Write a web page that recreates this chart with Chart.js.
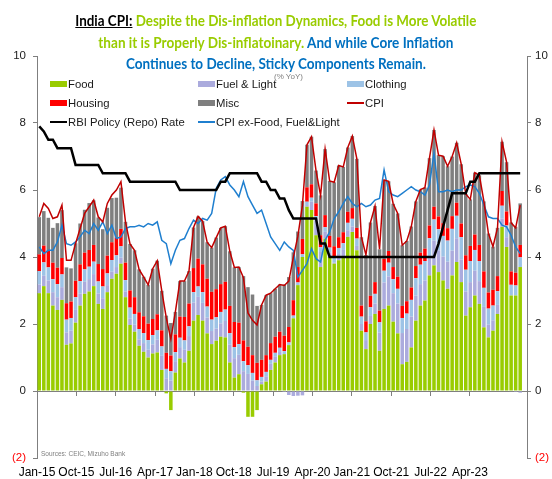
<!DOCTYPE html>
<html>
<head>
<meta charset="utf-8">
<script src="https://cdn.jsdelivr.net/npm/chart.js@4.4.1/dist/chart.umd.min.js"></script>
<style>
  body { margin: 0; background: #fff; }
  #marco { position: relative; width: 552px; height: 479px; font-family: "Liberation Sans", Arial, sans-serif; }
  #titulo { position: absolute; left: 0; top: 10px; width: 552px; text-align: center;
            font-family: Lato, "Open Sans", sans-serif; font-weight: bold; font-size: 14.5px; line-height: 21.5px; }
  #titulo .ln { display: inline-block; white-space: nowrap; transform-origin: center; }
  .verde { color: #99CC00; }
  .azul { color: #0070C0; }
  .item { position: absolute; font-size: 11.3px; color: #1a1a1a; white-space: nowrap; line-height: 14px; }
  .marca { position: absolute; }
  #unidad { position: absolute; left: 274px; top: 72px; font-size: 8px; color: #808080; }
  #fuente { position: absolute; left: 41px; top: 450px; font-size: 6.5px; color: #808080; }
</style>
</head>
<body>
<div id="marco">
  <canvas id="grafica" width="552" height="479"></canvas>
  <div id="titulo">
    <div><span class="ln"><u style="color:#000">India CPI:</u> <span class="verde">Despite the Dis-inflation Dynamics, Food is More Volatile</span></span></div>
    <div><span class="ln"><span class="verde">than it is Properly Dis-inflatoinary.</span> <span class="azul">And while Core Inflation</span></span></div>
    <div><span class="ln azul">Continues to Decline, Sticky Components Remain.</span></div>
  </div>
  <div id="leyenda"></div>
  <div id="unidad">(% YoY)</div>
  <div id="fuente">Sources: CEIC, Mizuho Bank</div>
</div>
<script>
const nombres = ['Jan','Feb','Mar','Apr','May','Jun','Jul','Aug','Sep','Oct','Nov','Dec'];
const meses = [];
for (let a = 15; a <= 23; a++) nombres.forEach(n => meses.push(n + '-' + a));

const etiquetasX = ['Jan-15', 'Oct-15', 'Jul-16', 'Apr-17', 'Jan-18', 'Oct-18',
                    'Jul-19', 'Apr-20', 'Jan-21', 'Oct-21', 'Jul-22', 'Apr-23'];

// contribuciones a la inflacion (pp), Jan-15 .. Nov-23
const food = [
  2.92, 3.13, 2.92, 2.55, 2.42, 2.72, 1.38, 1.42, 2.04, 2.55, 2.9, 2.97,
  3.13, 2.6, 2.45, 2.95, 3.35, 3.5, 3.8, 2.8, 1.97, 1.77, 1.35, 1.17,
  1.0, 1.12, 1.15, 0.63, -0.07, -0.57, 0.55, 0.97, 0.85, 1.2, 2.1, 2.27,
  2.1, 1.72, 1.4, 1.5, 1.62, 1.6, 0.85, 0.4, 0.5, -0.05, -0.77, -0.77,
  -0.57, 0.2, 0.28, 0.63, 0.85, 1.07, 1.1, 1.37, 2.17, 3.16, 4.0, 5.5,
  5.4, 4.65, 3.7, 4.55, 4.0, 3.8, 3.9, 4.0, 4.6, 4.75, 4.2, 1.8,
  1.25, 2.0, 2.3, 1.2, 2.45, 2.55, 2.07, 1.72, 0.8, 0.87, 1.3, 2.1,
  2.55, 2.7, 3.45, 3.75, 3.55, 3.3, 3.05, 3.45, 3.85, 3.25, 2.25, 2.5,
  2.85, 2.6, 1.9, 1.6, 1.8, 2.3, 4.9, 4.3, 2.85, 2.85, 3.7
];
const fuelLight = [
  0.26, 0.31, 0.38, 0.40, 0.38, 0.38, 0.37, 0.38, 0.38, 0.36, 0.36, 0.37,
  0.36, 0.31, 0.32, 0.21, 0.21, 0.20, 0.18, 0.17, 0.19, 0.21, 0.19, 0.26,
  0.23, 0.27, 0.38, 0.42, 0.38, 0.31, 0.34, 0.34, 0.38, 0.44, 0.54, 0.54,
  0.53, 0.47, 0.39, 0.36, 0.40, 0.49, 0.54, 0.58, 0.58, 0.59, 0.51, 0.31,
  0.15, 0.08, 0.16, 0.18, 0.17, 0.12, -0.03, -0.12, -0.15, -0.14, -0.13, 0.05,
  0.25, 0.44, 0.45, 0.20, 0.14, 0.03, 0.19, 0.21, 0.20, 0.16, 0.13, 0.20,
  0.27, 0.24, 0.31, 0.54, 0.79, 0.87, 0.85, 0.89, 0.93, 0.98, 0.92, 0.75,
  0.64, 0.60, 0.51, 0.74, 0.65, 0.71, 0.81, 0.74, 0.71, 0.68, 0.72, 0.75,
  0.74, 0.68, 0.61, 0.38, 0.31, 0.27, 0.25, 0.29, -0.01, -0.03, -0.05
];
const clothing = [
  0.40, 0.40, 0.39, 0.39, 0.39, 0.38, 0.38, 0.38, 0.38, 0.37, 0.37, 0.37,
  0.37, 0.36, 0.35, 0.35, 0.35, 0.35, 0.34, 0.34, 0.33, 0.32, 0.31, 0.30,
  0.29, 0.28, 0.28, 0.28, 0.28, 0.28, 0.27, 0.28, 0.28, 0.29, 0.31, 0.31,
  0.32, 0.33, 0.34, 0.34, 0.34, 0.34, 0.34, 0.33, 0.32, 0.30, 0.26, 0.23,
  0.17, 0.14, 0.13, 0.12, 0.12, 0.10, 0.09, 0.08, 0.08, 0.08, 0.08, 0.10,
  0.12, 0.13, 0.14, 0.14, 0.14, 0.15, 0.18, 0.20, 0.22, 0.23, 0.22, 0.22,
  0.23, 0.26, 0.29, 0.31, 0.35, 0.41, 0.42, 0.44, 0.45, 0.46, 0.50, 0.52,
  0.58, 0.58, 0.60, 0.63, 0.63, 0.62, 0.63, 0.65, 0.67, 0.66, 0.65, 0.63,
  0.62, 0.60, 0.57, 0.48, 0.44, 0.41, 0.38, 0.35, 0.32, 0.30, 0.29
];
const housing = [
  0.50, 0.50, 0.49, 0.49, 0.49, 0.49, 0.49, 0.49, 0.49, 0.50, 0.50, 0.50,
  0.50, 0.52, 0.52, 0.53, 0.53, 0.53, 0.52, 0.52, 0.51, 0.50, 0.50, 0.50,
  0.49, 0.48, 0.48, 0.48, 0.48, 0.47, 0.53, 0.63, 0.70, 0.68, 0.72, 0.83,
  0.83, 0.83, 0.83, 0.84, 0.83, 0.83, 0.81, 0.75, 0.64, 0.62, 0.55, 0.53,
  0.52, 0.51, 0.50, 0.50, 0.48, 0.48, 0.46, 0.46, 0.46, 0.46, 0.46, 0.43,
  0.40, 0.38, 0.36, 0.36, 0.35, 0.34, 0.32, 0.33, 0.33, 0.32, 0.32, 0.33,
  0.33, 0.34, 0.35, 0.35, 0.35, 0.35, 0.36, 0.36, 0.36, 0.37, 0.37, 0.36,
  0.36, 0.37, 0.38, 0.38, 0.38, 0.38, 0.37, 0.38, 0.39, 0.41, 0.43, 0.45,
  0.46, 0.48, 0.49, 0.48, 0.47, 0.45, 0.44, 0.42, 0.40, 0.38, 0.37
];
const misc = [
  1.11, 1.03, 0.99, 1.04, 1.33, 1.43, 1.07, 0.99, 1.12, 1.22, 1.28, 1.40,
  1.33, 1.39, 1.19, 1.43, 1.32, 1.19, 1.23, 1.22, 1.39, 1.40, 1.28, 1.18,
  1.16, 1.50, 1.60, 1.18, 1.11, 0.97, 0.67, 1.06, 1.07, 0.97, 1.21, 1.26,
  1.29, 1.09, 1.32, 1.54, 1.68, 1.66, 1.63, 1.63, 1.66, 1.92, 1.78, 1.81,
  1.70, 1.64, 1.79, 1.49, 1.43, 1.41, 1.53, 1.49, 1.43, 1.06, 1.13, 1.27,
  1.42, 0.98, 1.19, 1.97, 1.64, 1.91, 2.14, 1.95, 1.92, 2.15, 2.06, 2.04,
  1.98, 2.19, 2.27, 1.83, 2.36, 2.08, 1.89, 1.89, 1.81, 1.80, 1.82, 1.93,
  1.88, 1.82, 2.01, 2.29, 1.83, 2.00, 1.85, 1.78, 1.79, 1.77, 1.83, 1.39,
  1.85, 2.08, 2.09, 1.76, 1.29, 1.44, 1.47, 1.47, 1.46, 1.37, 1.24
];
const cpi = [
  5.2, 5.6, 5.45, 5.15, 5.2, 5.55, 3.9, 3.9, 4.4, 4.85, 5.3, 5.5,
  5.7, 5.2, 5.05, 5.6, 5.85, 6.0, 6.25, 5.05, 4.39, 4.2, 3.63, 3.41,
  3.17, 3.65, 3.89, 2.99, 2.18, 1.55, 2.36, 3.28, 3.28, 3.58, 4.88, 5.21,
  5.07, 4.44, 4.28, 4.58, 4.87, 4.92, 4.17, 3.69, 3.7, 3.38, 2.33, 2.11,
  1.97, 2.57, 2.86, 2.92, 3.05, 3.18, 3.15, 3.28, 3.99, 4.62, 5.54, 7.35,
  7.59, 6.58, 5.84, 7.22, 6.27, 6.23, 6.73, 6.69, 7.27, 7.61, 6.93, 4.59,
  4.06, 5.03, 5.52, 4.23, 6.3, 6.26, 5.59, 5.3, 4.35, 4.48, 4.91, 5.66,
  6.01, 6.07, 6.95, 7.79, 7.04, 7.01, 6.71, 7.0, 7.41, 6.77, 5.88, 5.72,
  6.52, 6.44, 5.66, 4.7, 4.31, 4.87, 7.44, 6.83, 5.02, 4.87, 5.55
];
const repoRate = [
  7.9, 7.75, 7.5, 7.5, 7.25, 7.25, 7.25, 7.25, 6.75, 6.75, 6.75, 6.75,
  6.75, 6.75, 6.5, 6.5, 6.5, 6.5, 6.5, 6.5, 6.25, 6.25, 6.25, 6.25,
  6.25, 6.25, 6.25, 6.25, 6.25, 6.25, 6.25, 6.0, 6.0, 6.0, 6.0, 6.0,
  6.0, 6.0, 6.0, 6.0, 6.25, 6.25, 6.5, 6.5, 6.5, 6.5, 6.5, 6.5,
  6.5, 6.25, 6.25, 6.0, 6.0, 5.75, 5.75, 5.4, 5.15, 5.15, 5.15, 5.15,
  5.15, 5.15, 4.4, 4.4, 4.0, 4.0, 4.0, 4.0, 4.0, 4.0, 4.0, 4.0,
  4.0, 4.0, 4.0, 4.0, 4.0, 4.0, 4.0, 4.0, 4.0, 4.0, 4.0, 4.0,
  4.0, 4.0, 4.0, 4.0, 4.4, 4.9, 5.4, 5.9, 5.9, 5.9, 5.9, 6.25,
  6.25, 6.5, 6.5, 6.5, 6.5, 6.5, 6.5, 6.5, 6.5, 6.5, 6.5
];
const coreCpi = [
  4.3, 4.1, 4.2, 4.2, 4.45, 4.95, 4.4, 4.35, 4.45, 4.6, 4.8, 4.7,
  5.0, 4.8, 5.05, 4.7, 4.95, 4.55, 4.6, 4.85, 4.9, 4.9, 4.95, 4.9,
  5.0, 4.95, 5.05, 4.5, 4.4, 3.8, 4.2, 4.5, 4.55, 4.85, 5.1, 5.0,
  5.15, 5.1, 5.3, 6.05, 6.3, 6.4, 6.15, 6.0, 5.8, 6.25, 5.8, 5.55,
  5.3, 5.4, 5.0, 4.6, 4.4, 4.2, 4.45, 4.3, 4.2, 3.4, 3.6, 3.8,
  4.25, 3.95, 3.85, 4.5, 4.75, 5.15, 5.35, 5.6, 5.8, 5.6, 5.5, 5.6,
  5.5, 5.55, 5.7, 5.75, 6.6, 5.95, 5.85, 5.8, 5.9, 6.0, 6.1, 6.0,
  5.95, 5.85, 6.15, 7.1, 5.95, 5.95, 6.0, 5.95, 6.0, 6.0, 6.1, 6.15,
  6.1, 5.9, 5.55, 5.2, 5.15, 5.15, 4.95, 4.9, 4.65, 4.3, 4.1
];

const colores = {
  food: '#99CC00', fuel: '#ABABDD', clothing: '#9DC3E6', housing: '#FF0000', misc: '#7F7F7F',
  cpi: '#C00000', repo: '#000000', core: '#1F7FCF'
};

const etiquetaY = v => v < 0 ? '(' + (-v) + ')' : v;
const colorY = c => c.tick && c.tick.value < 0 ? '#FF0000' : '#222';
const fuenteEjes = { family: '"Liberation Sans", Arial, sans-serif', size: 11.5 };
const ticksX = s => { s.ticks = etiquetasX.map((_, i) => ({ value: i })); };
// el eje de fechas del original reparte las etiquetas algo mas juntas que las barras
const maxX = 12.45;

const barra = (label, data, color) => ({ label, data, backgroundColor: color, borderWidth: 0, order: 10 });
const linea = (label, data, color, ancho, orden) => ({
  type: 'line', label, data, yAxisID: 'y2', borderColor: color, borderWidth: ancho,
  pointRadius: 0, tension: 0, fill: false, order: orden
});

new Chart(document.getElementById('grafica'), {
  type: 'bar',
  data: {
    labels: meses,
    datasets: [
      barra('Food', food, colores.food),
      barra('Fuel & Light', fuelLight, colores.fuel),
      barra('Clothing', clothing, colores.clothing),
      barra('Housing', housing, colores.housing),
      barra('Misc', misc, colores.misc),
      linea('CPI', cpi, colores.cpi, 1.5, 1),
      linea('RBI Policy (Repo) Rate', repoRate, colores.repo, 2.5, 0),
      linea('CPI ex-Food, Fuel&Light', coreCpi, colores.core, 1.5, 2)
    ]
  },
  options: {
    responsive: false,
    animation: false,
    layout: { padding: { top: 56, left: 0, right: 0, bottom: 0 } },
    plugins: { legend: { display: false }, tooltip: { enabled: false } },
    datasets: { bar: { barPercentage: 0.78, categoryPercentage: 1 } },
    scales: {
      x: {
        type: 'category', stacked: true, offset: true, display: false
      },
      xt: {
        type: 'linear', position: { y: 0 }, min: 0, max: maxX, offset: false,
        grid: { display: true, drawOnChartArea: false, offset: false, tickLength: 4, color: '#7f7f7f' },
        border: { display: true, color: '#7f7f7f' },
        ticks: { display: false },
        afterBuildTicks: ticksX
      },
      xl: {
        type: 'linear', position: 'bottom', min: 0, max: maxX, offset: false,
        grid: { display: false, drawTicks: false, offset: false },
        border: { display: false },
        ticks: { autoSkip: false, maxRotation: 0, padding: 7, color: '#000',
                 callback: v => etiquetasX[v],
                 font: { family: '"Liberation Sans", Arial, sans-serif', size: 12 } },
        afterBuildTicks: ticksX,
        afterFit: s => { s.height = 21; }
      },
      y: {
        stacked: true, min: -2, max: 10, position: 'left',
        grid: { display: true, drawOnChartArea: false, tickLength: 4, color: '#7f7f7f' },
        border: { color: '#7f7f7f' },
        ticks: { stepSize: 2, padding: 7, color: colorY, callback: etiquetaY, font: fuenteEjes },
        afterFit: s => { s.width = 37; }
      },
      y2: {
        min: -2, max: 10, position: 'right',
        grid: { display: true, drawOnChartArea: false, tickLength: 4, color: '#7f7f7f' },
        border: { color: '#7f7f7f' },
        ticks: { stepSize: 2, padding: 4, color: colorY, callback: etiquetaY, font: fuenteEjes },
        afterFit: s => { s.width = 25; }
      }
    }
  }
});

// leyenda
const leyenda = [
  { texto: 'Food', color: colores.food, tipo: 'caja', x: 50, y: 84 },
  { texto: 'Fuel & Light', color: colores.fuel, tipo: 'caja', x: 198, y: 84 },
  { texto: 'Clothing', color: colores.clothing, tipo: 'caja', x: 347, y: 84 },
  { texto: 'Housing', color: colores.housing, tipo: 'caja', x: 50, y: 103 },
  { texto: 'Misc', color: colores.misc, tipo: 'caja', x: 198, y: 103 },
  { texto: 'CPI', color: colores.cpi, tipo: 'linea', grosor: 1.5, x: 347, y: 103 },
  { texto: 'RBI Policy (Repo) Rate', color: colores.repo, tipo: 'linea', grosor: 2.5, x: 50, y: 122 },
  { texto: 'CPI ex-Food, Fuel&Light', color: colores.core, tipo: 'linea', grosor: 1.5, x: 198, y: 122 }
];
const caja = document.getElementById('leyenda');
leyenda.forEach(it => {
  const m = document.createElement('div');
  m.className = 'marca';
  const alto = it.tipo === 'caja' ? 6 : it.grosor;
  m.style.cssText = `left:${it.x}px;top:${it.y - alto / 2}px;width:17px;height:${alto}px;background:${it.color}`;
  caja.appendChild(m);
  const t = document.createElement('div');
  t.className = 'item';
  t.textContent = it.texto;
  t.style.left = (it.x + 18) + 'px';
  t.style.top = (it.y - 7) + 'px';
  caja.appendChild(t);
});

// ajustar ancho del titulo
const anchos = [401, 355, 300];
document.querySelectorAll('#titulo .ln').forEach((el, i) => {
  const w = el.getBoundingClientRect().width;
  el.style.transform = 'scaleX(' + (anchos[i] / w) + ')';
});
</script>
</body>
</html>
